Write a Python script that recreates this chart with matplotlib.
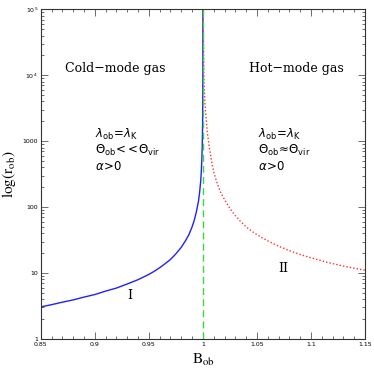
import matplotlib
matplotlib.use("Agg")
import matplotlib.pyplot as plt
from matplotlib.ticker import FixedLocator, MultipleLocator, LogLocator, NullFormatter

# curve I: cold-mode branch (B_ob < 1)
b_cold = [0.85, 0.86, 0.87, 0.88, 0.89, 0.90, 0.91, 0.92, 0.93, 0.94, 0.95,
          0.955, 0.96, 0.965, 0.97, 0.975, 0.98, 0.984, 0.987, 0.99, 0.992,
          0.994, 0.996, 0.997, 0.998, 0.9985, 0.999, 0.9994, 0.9997, 0.9999,
          0.99995, 0.99999]
r_cold = [3.05, 3.3, 3.6, 3.9, 4.3, 4.7, 5.3, 5.9, 6.8, 7.9, 9.5,
          10.6, 12, 13.8, 16, 19.5, 24.5, 31, 38, 50, 63,
          85, 125, 170, 250, 340, 520, 850, 1700, 5000,
          1e4, 1e5]

# curve II: hot-mode branch (B_ob > 1)
b_hot = [1.0002, 1.001, 1.002, 1.004, 1.006, 1.008, 1.010, 1.013, 1.016,
         1.020, 1.025, 1.030, 1.035, 1.040, 1.047, 1.055, 1.062, 1.070,
         1.078, 1.085, 1.093, 1.100, 1.108, 1.115, 1.123, 1.130, 1.140, 1.150]
r_hot = [1e5, 8000, 3500, 1400, 800, 500, 340, 235, 172,
         130, 95, 74, 60, 50, 41, 34, 29.5, 25.5,
         22.5, 20.3, 18.4, 17, 15.6, 14.5, 13.5, 12.7, 11.8, 11]

b_crit = 1.0
x_ticks = [0.85, 0.9, 0.95, 1.0, 1.05, 1.1, 1.15]
x_ticklabels = ["0.85", "0.9", "0.95", "1", "1.05", "1.1", "1.15"]
y_ticks = [1, 10, 100, 1000, 1e4, 1e5]
y_ticklabels = ["1", "10", "100", "1000", r"$10^4$", r"$10^5$"]

fig = plt.figure(figsize=(3.74, 3.74), dpi=100)
ax = fig.add_axes([0.109, 0.094, 0.867, 0.881])

ax.plot(b_cold, r_cold, color="#2020ff", lw=1.0)
ax.plot(b_hot, r_hot, color="#ff3030", lw=1.0, ls=(0, (1, 1.5)))
ax.axvline(b_crit, color="#33dd33", lw=1.0, ls=(0, (5, 3)))

ax.set_yscale("log")
ax.set_xlim(0.85, 1.15)
ax.set_ylim(1, 1e5)

ax.xaxis.set_major_locator(FixedLocator(x_ticks))
ax.set_xticklabels(x_ticklabels)
ax.xaxis.set_minor_locator(MultipleLocator(0.01))
ax.yaxis.set_major_locator(FixedLocator(y_ticks))
ax.set_yticklabels(y_ticklabels)
ax.yaxis.set_minor_locator(LogLocator(base=10, subs=range(2, 10)))
ax.yaxis.set_minor_formatter(NullFormatter())

ax.tick_params(which="both", direction="in", top=True, right=True,
               labelsize=4.5, color="#555555", width=0.6)
ax.tick_params(which="major", length=5, pad=2)
ax.tick_params(which="minor", length=2.5)
for s in ax.spines.values():
    s.set_linewidth(0.8)
    s.set_color("#333333")

ax.set_xlabel(r"$\mathrm{B_{ob}}$", fontsize=11, math_fontfamily="stix", labelpad=4)
ax.set_ylabel(r"$\mathrm{log(r_{ob})}$", fontsize=11, math_fontfamily="stix", labelpad=3)

ax.text(0.229, 0.82, "Cold\u2212mode gas", transform=ax.transAxes, ha="center",
        va="center", fontsize=9, family="DejaVu Serif")
ax.text(0.789, 0.82, "Hot\u2212mode gas", transform=ax.transAxes, ha="center",
        va="center", fontsize=9, family="DejaVu Serif")

left_lines = [r"$\lambda_{\rm ob}\!=\!\lambda_{\rm K}$",
              r"$\Theta_{\rm ob}\!<\!<\!\Theta_{\rm vir}$",
              r"$\alpha\!>\!0$"]
right_lines = [r"$\lambda_{\rm ob}\!=\!\lambda_{\rm K}$",
               r"$\Theta_{\rm ob}\!\approx\!\Theta_{\rm vir}$",
               r"$\alpha\!>\!0$"]
for i, (lt, rt) in enumerate(zip(left_lines, right_lines)):
    yy = 0.619 - i * 0.0485
    ax.text(0.168, yy, lt, transform=ax.transAxes, va="center", fontsize=8.5,
            math_fontfamily="dejavusans")
    ax.text(0.669, yy, rt, transform=ax.transAxes, va="center", fontsize=8.5,
            math_fontfamily="dejavusans")

ax.text(0.276, 0.131, "I", transform=ax.transAxes, ha="center", va="center",
        fontsize=9, family="DejaVu Serif")
ax.text(0.747, 0.215, "II", transform=ax.transAxes, ha="center", va="center",
        fontsize=9, family="DejaVu Serif")

fig.savefig("out.png", dpi=100)
